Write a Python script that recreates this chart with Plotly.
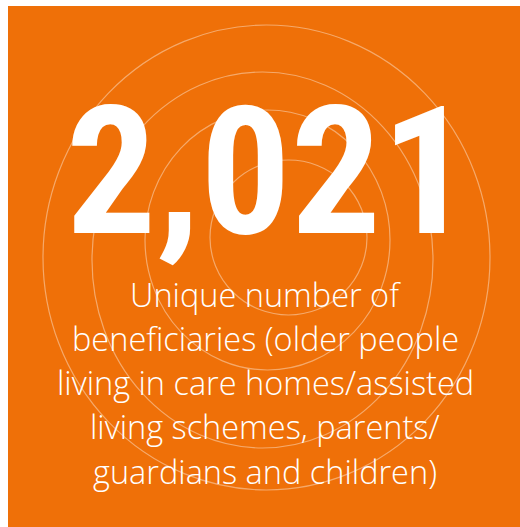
import plotly.graph_objects as go

# ---- data ----
headline_value = 2021
label_lines = [
    "Unique number of",
    "beneficiaries (older people",
    "living in care homes/assisted",
    "living schemes, parents/",
    "guardians and children)",
]

# ---- style / layout constants ----
W, H = 520, 527
ORANGE = "#EF7008"
RING = "rgba(255,255,255,0.40)"
# decorative ring bounding boxes (pixel space of the figure)
rings = [
    (35, 19, 482, 484),
    (84, 66, 425, 442),
    (137, 104, 382, 364),
    (202, 154, 359, 309),
]

fig = go.Figure()
fig.add_trace(go.Scatter(x=[0, W], y=[0, H], mode="markers",
                         marker=dict(opacity=0), hoverinfo="skip", showlegend=False))

shapes = []
for (x0, y0, x1, y1) in rings:
    shapes.append(dict(type="circle", xref="x", yref="y", x0=x0, y0=y0, x1=x1, y1=y1,
                       line=dict(color=RING, width=1.2), layer="below"))

annotations = [dict(
    x=261, y=166, xref="x", yref="y", text=f"{headline_value:,}",
    showarrow=False, xanchor="center", yanchor="middle",
    font=dict(family="Roboto Condensed, Open Sans Condensed, sans-serif",
              size=179, color="white", weight="bold"),
)]
base_y, step = 288, 44.25
for i, line in enumerate(label_lines):
    annotations.append(dict(
        x=257, y=base_y + i * step, xref="x", yref="y", text=line,
        showarrow=False, xanchor="center", yanchor="middle",
        font=dict(family="Open Sans, sans-serif", size=32.5, color="white", weight=300),
    ))

fig.update_layout(
    width=W, height=H, margin=dict(l=0, r=0, t=0, b=0),
    paper_bgcolor=ORANGE, plot_bgcolor=ORANGE,
    xaxis=dict(range=[0, W], visible=False, fixedrange=True),
    yaxis=dict(range=[H, 0], visible=False, fixedrange=True),
    shapes=shapes, annotations=annotations, showlegend=False,
)
fig.write_html(
    "out.html",
    config={"displayModeBar": False},
    post_script="document.body.style.overflow='hidden';document.body.style.margin='6px 0 0 8px';",
)
